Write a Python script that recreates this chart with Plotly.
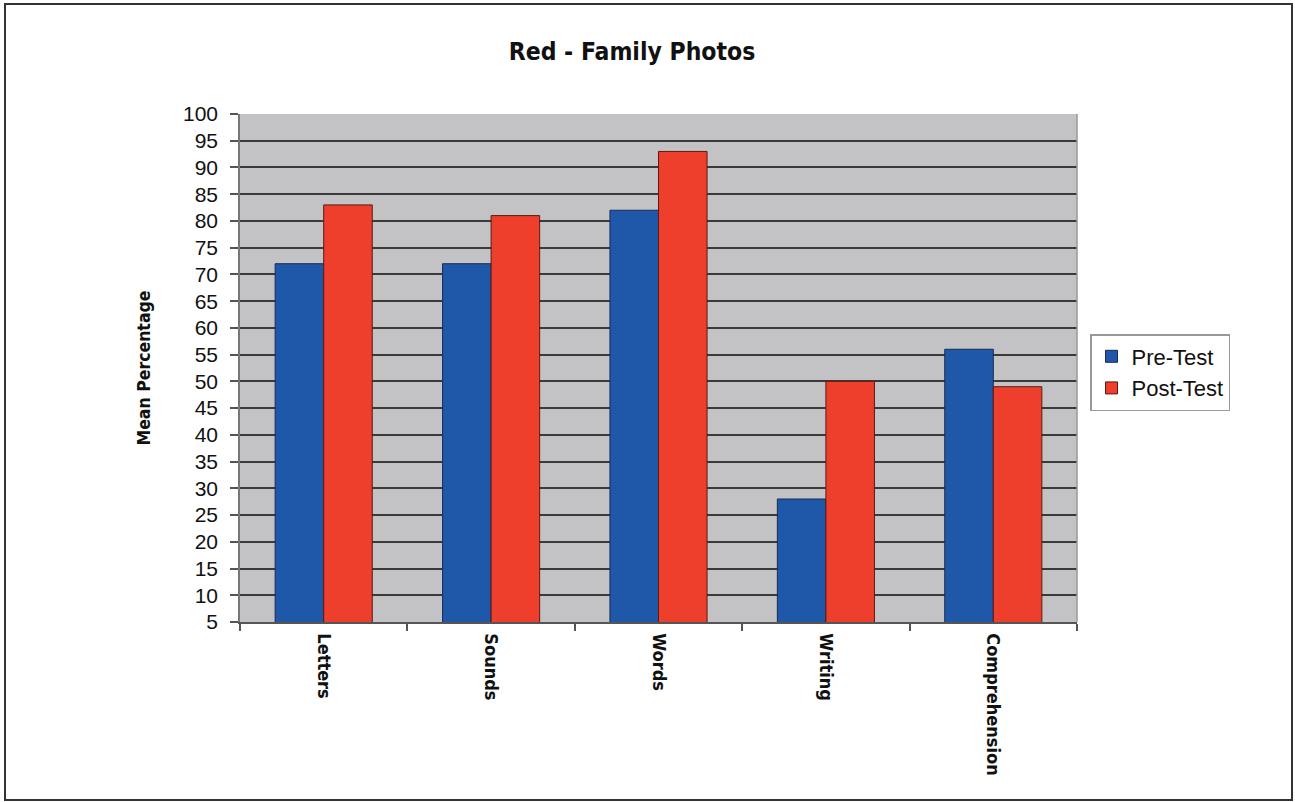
import plotly.graph_objects as go

categories = ["Letters", "Sounds", "Words", "Writing", "Comprehension"]
pre_test = [72, 72, 82, 28, 56]
post_test = [83, 81, 93, 50, 49]
y_ticks = list(range(5, 101, 5))

W, H = 1295, 802
L, R, T, B = 240, 218, 114, 180
pw, ph = W - L - R, H - T - B

narrow = "DejaVu Sans Condensed, Liberation Sans Narrow, Arial Narrow, sans-serif"
regular = "Liberation Sans, Arial, sans-serif"


def px_to_paper_x(px):
    return (px - L) / pw


def px_to_paper_y(py):
    return (H - B - py) / ph


fig = go.Figure()
fig.add_trace(go.Bar(name="Pre-Test", x=categories, y=pre_test,
                     marker=dict(color="#1F58A8", line=dict(color="#1a2a55", width=1))))
fig.add_trace(go.Bar(name="Post-Test", x=categories, y=post_test,
                     marker=dict(color="#EE3F2C", line=dict(color="#5a1a12", width=1))))

fig.update_layout(
    width=W, height=H,
    margin=dict(l=L, r=R, t=T, b=B, pad=0),
    paper_bgcolor="white",
    plot_bgcolor="#C3C3C5",
    barmode="group",
    bargap=0.42,
    bargroupgap=0,
    title=dict(text="<b>Red - Family Photos</b>", x=632 / W, xanchor="center",
               y=1 - 51 / H, yanchor="middle", xref="container", yref="container",
               font=dict(family=narrow, size=24.5, color="#111111")),
    legend=dict(x=px_to_paper_x(1090), y=px_to_paper_y(334), xanchor="left", yanchor="top",
                bordercolor="#999999", borderwidth=1.5, bgcolor="white",
                font=dict(family=regular, size=22, color="#111111"),
                itemwidth=30, tracegroupgap=0),
    showlegend=True,
)
fig.update_yaxes(
    range=[5, 100], tickvals=y_ticks, ticktext=[str(v) for v in y_ticks],
    showgrid=True, gridcolor="#3a3a3a", gridwidth=1.5,
    showline=True, linecolor="#777777", linewidth=1.5,
    ticks="outside", ticklen=8, tickcolor="#555555", tickwidth=1.5,
    ticklabelstandoff=8,
    tickfont=dict(family=regular, size=21, color="#111111"),
    title=dict(text="<b>Mean Percentage</b>", standoff=28,
               font=dict(family=narrow, size=17.5, color="#111111")),
    zeroline=False,
)
fig.update_xaxes(
    showline=True, linecolor="#555555", linewidth=1.5,
    ticks="outside", tickson="boundaries", ticklen=7, tickcolor="#555555", tickwidth=1.5,
    tickangle=90, ticklabelstandoff=6,
    tickfont=dict(family=narrow, size=18, color="#111111"),
    tickprefix="<b>", ticksuffix="</b>",
)
# right edge of plot area
fig.add_shape(type="line", xref="paper", yref="paper", x0=1, x1=1, y0=0, y1=1,
              line=dict(color="#999999", width=1.5))
# outer frame
fig.add_shape(type="rect", xref="paper", yref="paper",
              x0=px_to_paper_x(5), x1=px_to_paper_x(1292),
              y0=px_to_paper_y(800), y1=px_to_paper_y(4),
              line=dict(color="#333333", width=2), fillcolor="rgba(0,0,0,0)", layer="above")

fig.write_html("out.html", config={"displayModeBar": False},
               post_script="document.body.style.margin='0px';")
